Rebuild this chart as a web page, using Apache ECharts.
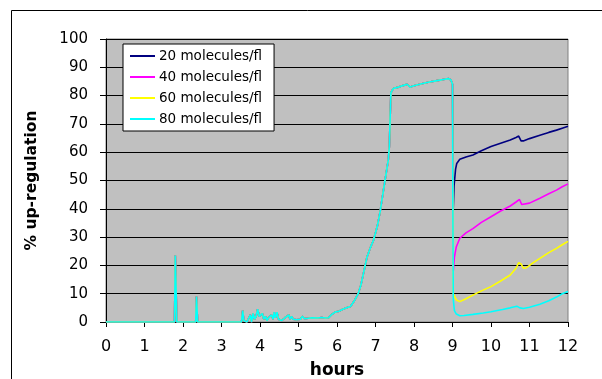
<!DOCTYPE html>
<html><head><meta charset="utf-8">
<script src="https://cdn.jsdelivr.net/npm/echarts@6/dist/echarts.min.js"></script>
<style>html,body{margin:0;padding:0;background:#fff}#c{width:602px;height:379px}</style>
</head><body><div id="c"></div>
<script>
// Legend names
const seriesNames = ['20 molecules/fl', '40 molecules/fl', '60 molecules/fl', '80 molecules/fl'];
const seriesColors = ['#000080', '#ff00ff', '#ffff00', '#00ffff'];
const xTicks = [0,1,2,3,4,5,6,7,8,9,10,11,12];
const yTicks = [0,10,20,30,40,50,60,70,80,90,100];

// Shared trace (0 - 9 h), all concentrations coincide here
const sharedHours = [0,1.78,1.8,1.84,2.33,2.35,2.38,3.52,3.55,3.58,3.62,3.66,3.7,3.75,3.78,3.82,3.86,3.9,3.94,3.98,4.02,4.06,4.1,4.14,4.18,4.22,4.26,4.3,4.34,4.37,4.4,4.44,4.48,4.52,4.56,4.6,4.65,4.7,4.75,4.78,4.82,4.86,4.9,4.95,5.0,5.05,5.1,5.15,5.2,5.25,5.3,5.35,5.4,5.5,5.6,5.7,5.78,5.85,5.95,6.05,6.15,6.25,6.35,6.45,6.55,6.62,6.7,6.78,6.86,6.95,7.05,7.12,7.2,7.27,7.33,7.36,7.38,7.4,7.46,7.6,7.75,7.82,7.9,8.0,8.2,8.4,8.6,8.8,8.9,8.96,9.0];
const sharedValues = [0,0,23.5,0,0,9,0,0,4,0.5,1,0,0.5,2.5,0,3,1,2,4.5,2,1.5,3,1,2,0.5,1.5,1,2.5,1,3.5,1.5,3.5,1,1.5,0.5,1,1.5,1,2.5,1,2,1,1.5,0.8,1.5,1,2,1.2,1.8,1.3,1.8,1.5,1.7,1.4,1.6,1.4,1.5,2.5,3.5,3.8,4.5,5,5.5,7.5,10,13,18,23,26,29,34,39,46,52,57,62,72,81,82.5,83,83.7,84,83,83.5,84.2,84.8,85.3,85.8,86,85.5,84];

// Tails after 9 h
const tail20Hours = [9.02,9.04,9.08,9.11,9.19,9.35,9.53,9.75,10,10.25,10.5,10.65,10.72,10.78,10.84,11.0,11.27,11.5,11.7,11.85,12];
const tail20Values = [40,48,54,56,57.5,58.3,59,60.5,62,63.2,64.3,65.2,65.7,64,64,64.8,66,67,67.8,68.5,69.2];
const tail40Hours = [9.02,9.05,9.1,9.19,9.35,9.53,9.75,10,10.25,10.5,10.65,10.74,10.8,10.84,11.0,11.27,11.5,11.7,11.85,12];
const tail40Values = [18,23,26.6,29.6,31.5,33,35.2,37.2,39.2,41,42.4,43.3,41.5,41,42,43.7,45.3,46.6,47.8,48.8];
const tail60Hours = [9.02,9.1,9.19,9.35,9.53,9.75,10,10.25,10.5,10.65,10.72,10.78,10.84,10.92,11.1,11.27,11.5,11.7,11.85,12];
const tail60Values = [10,7.8,7.2,8.2,9.5,11,12.5,14.5,16.6,19,21,20.5,19,19.2,21,22.5,24.5,26,27.3,28.5];
const tail80Hours = [9.01,9.02,9.05,9.1,9.19,9.3,9.53,9.8,10,10.3,10.5,10.67,10.75,10.84,11.0,11.27,11.5,11.7,11.85,12];
const tail80Values = [40,8,4,2.8,2.2,2.3,2.7,3.2,3.6,4.4,5,5.6,5.0,4.8,5.2,6.3,7.5,8.8,10,10.8];

function pairs(xs, ys){ return xs.map((x,i)=>[x, ys[i]]); }
const shared = pairs(sharedHours, sharedValues);
const tails = [pairs(tail20Hours, tail20Values), pairs(tail40Hours, tail40Values), pairs(tail60Hours, tail60Values), pairs(tail80Hours, tail80Values)];

const FONT = 'DejaVu Sans';
const chart = echarts.init(document.getElementById('c'), null, {renderer:'canvas'});
chart.setOption({
  animation: false,
  backgroundColor: '#fff',
  graphic: [{type:'rect', shape:{x:11.5, y:10.5, width:700, height:500}, style:{fill:'none', stroke:'#000', lineWidth:1}, silent:true, z:-1}],
  grid: {left:106, right:34, top:39, bottom:57, containLabel:false, outerBoundsMode:'none', show:true, backgroundColor:'#c0c0c0', borderColor:'#808080', borderWidth:1},
  legend: {
    orient:'vertical', left:123, top:44, backgroundColor:'#fff', borderColor:'#000', borderWidth:1,
    padding:[5,12,5,7], itemGap:7, itemWidth:25, itemHeight:2, icon:'rect',
    textStyle:{fontFamily:FONT, fontSize:13.5, color:'#000', padding:[0,0,0,-1]},
    data: seriesNames
  },
  xAxis: {
    type:'value', min:xTicks[0], max:xTicks[xTicks.length-1], interval:1,
    name:'hours', nameLocation:'middle', nameGap:40,
    nameTextStyle:{fontFamily:FONT, fontSize:17, fontWeight:'bold', color:'#000'},
    axisLine:{show:true, onZero:false, lineStyle:{color:'#000', width:1}},
    axisTick:{show:true, length:5, lineStyle:{color:'#000'}},
    axisLabel:{fontFamily:FONT, fontSize:16, color:'#000', margin:17, formatter:v=>String(v)},
    splitLine:{show:false}
  },
  yAxis: {
    type:'value', min:yTicks[0], max:yTicks[yTicks.length-1], interval:10,
    name:'% up-regulation', nameLocation:'middle', nameGap:66, nameRotate:90,
    nameTextStyle:{fontFamily:FONT, fontSize:15.5, fontWeight:'bold', color:'#000'},
    axisLine:{show:true, lineStyle:{color:'#000', width:1}},
    axisTick:{show:true, length:6, lineStyle:{color:'#000'}},
    axisLabel:{fontFamily:FONT, fontSize:15, color:'#000', margin:18},
    splitLine:{show:true, lineStyle:{color:'#000', width:1}}
  },
  series: seriesNames.map((n,i)=>({
    name:n, type:'line', showSymbol:false, symbol:'none',
    data: shared.concat(tails[i]),
    lineStyle:{color:seriesColors[i], width:1.6},
    itemStyle:{color:seriesColors[i]},
    z: 2+i
  }))
});
</script></body></html>
